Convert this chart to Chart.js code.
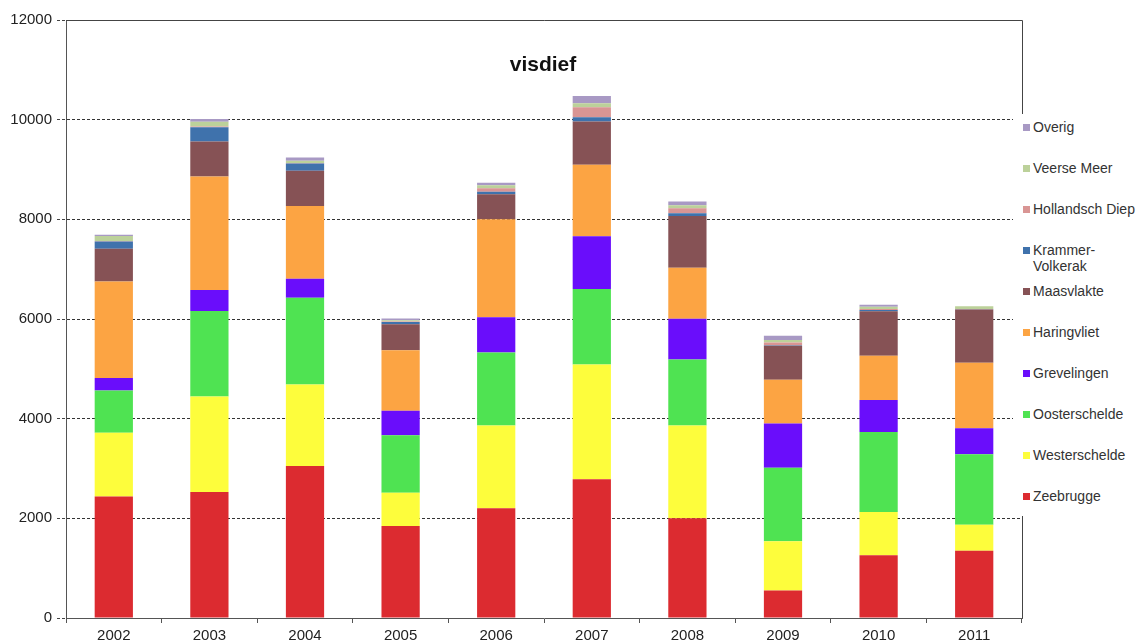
<!DOCTYPE html>
<html>
<head>
<meta charset="utf-8">
<title>visdief</title>
<script src="https://cdn.jsdelivr.net/npm/chart.js@4/dist/chart.umd.min.js"></script>
<style>
    html, body { margin: 0; padding: 0; background: #fff; }
    .wrap { position: relative; width: 1137px; height: 642px; font-family: "Liberation Sans", Arial, sans-serif; }
    .chart-title { position: absolute; left: 443px; width: 200px; top: 52px; text-align: center; font-size: 21px; font-weight: bold; color: #111; }
    .legend-box { position: absolute; left: 1013px; top: 114px; width: 124px; height: 402px; background: #fff; }
    .legend-item { position: absolute; left: 10px; font-size: 14px; line-height: 16px; color: #333; }
    .legend-item .swatch { position: absolute; left: 0; top: 5px; width: 7px; height: 7px; }
    .legend-item .text { display: block; margin-left: 10px; }
</style>
</head>
<body>
<div class="wrap">
    <canvas id="visdiefChart"></canvas>
    <div class="chart-title">visdief</div>
    <div class="legend-box" id="legendBox"></div>
</div>
<script>
// ===== Visdief counts per area, 2002-2011 =====

const years = ['2002', '2003', '2004', '2005', '2006', '2007', '2008', '2009', '2010', '2011'];

const zeebrugge       = [2440, 2527, 3050, 1848, 2201, 2785, 2004,  550, 1260, 1350];
const westerschelde   = [1276, 1916, 1638,  666, 1664, 2303, 1857,  992,  867,  520];
const oosterschelde   = [ 849, 1719, 1739, 1154, 1461, 1515, 1327, 1474, 1606, 1414];
const grevelingen     = [ 252,  421,  380,  490,  709, 1056,  817,  885,  644,  523];
const haringvliet     = [1936, 2276, 1461, 1216, 1965, 1435, 1025,  878,  884, 1314];
const maasvlakte      = [ 656,  705,  705,  521,  502,  867, 1037,  683,  894, 1069];
const krammerVolkerak = [ 148,  282,  148,   45,   53,   87,   54,   10,   25,    5];
const hollandschDiep  = [  10,   15,   10,   10,   67,  200,  100,   58,   20,    5];
const veerseMeer      = [  97,   99,   43,   25,   60,   80,   61,   50,   45,   55];
const overig          = [  27,   53,   68,   35,   54,  148,   74,   84,   40,    0];

const yTicks = [0, 2000, 4000, 6000, 8000, 10000, 12000];

// bottom of the stack first
const series = [
    { label: 'Zeebrugge',        data: zeebrugge,       color: '#dc2b30' },
    { label: 'Westerschelde',    data: westerschelde,   color: '#fdfd3c' },
    { label: 'Oosterschelde',    data: oosterschelde,   color: '#4fe352' },
    { label: 'Grevelingen',      data: grevelingen,     color: '#6a0dfb' },
    { label: 'Haringvliet',      data: haringvliet,     color: '#fca443' },
    { label: 'Maasvlakte',       data: maasvlakte,      color: '#865255' },
    { label: ['Krammer-', 'Volkerak'], data: krammerVolkerak, color: '#3f72ac' },
    { label: 'Hollandsch Diep',  data: hollandschDiep,  color: '#d99594' },
    { label: 'Veerse Meer',      data: veerseMeer,      color: '#bcd19a' },
    { label: 'Overig',           data: overig,          color: '#a899c4' }
];

// --- Frame: top and right edges of the plot box ---
const plotFrame = {
    id: 'plotFrame',
    afterDraw: function (chart) {
        const ctx = chart.ctx;
        const a = chart.chartArea;
        ctx.save();
        ctx.strokeStyle = '#444';
        ctx.lineWidth = 1;
        ctx.beginPath();
        ctx.moveTo(a.left, a.top + 0.5);
        ctx.lineTo(a.right + 0.5, a.top + 0.5);
        ctx.lineTo(a.right + 0.5, a.bottom);
        ctx.stroke();
        ctx.restore();
    }
};

const axisFont = { family: '"Liberation Sans", Arial, sans-serif', size: 15 };

new Chart(document.getElementById('visdiefChart').getContext('2d'), {
    type: 'bar',
    data: {
        labels: years,
        datasets: series.map(function (s) {
            return {
                label: Array.isArray(s.label) ? s.label.join('') : s.label,
                data: s.data,
                backgroundColor: s.color,
                borderWidth: 0,
                categoryPercentage: 1,
                barPercentage: 0.4
            };
        })
    },
    options: {
        responsive: true,
        maintainAspectRatio: false,
        animation: false,
        layout: { padding: { top: 20, right: 115, bottom: 0, left: 0 } },
        plugins: {
            legend: { display: false },
            title: { display: false },
            tooltip: { enabled: false }
        },
        scales: {
            x: {
                stacked: true,
                grid: { display: true, drawOnChartArea: false, offset: true, tickLength: 5, tickColor: '#555' },
                border: { display: true, color: '#555', width: 1 },
                ticks: { font: axisFont, color: '#222', padding: 4, maxRotation: 0 },
                afterFit: function (scale) { scale.height = 24; }
            },
            y: {
                stacked: true,
                min: 0,
                max: 12000,
                afterBuildTicks: function (scale) {
                    scale.ticks = yTicks.map(function (v) { return { value: v }; });
                },
                grid: {
                    color: function (c) {
                        return (c.tick && (c.tick.value === 0 || c.tick.value === 12000)) ? 'rgba(0,0,0,0)' : '#333';
                    },
                    tickColor: '#444',
                    tickLength: 9,
                    tickBorderDash: [3, 2]
                },
                border: { display: true, color: '#555', width: 1, dash: [3, 2] },
                ticks: {
                    font: axisFont,
                    color: '#222',
                    padding: 5,
                    callback: function (value) { return String(value); }
                },
                afterFit: function (scale) { scale.width = 66; }
            }
        }
    },
    plugins: [plotFrame]
});

// --- Legend (top entry = top of the stack) ---
(function () {
    var box = document.getElementById('legendBox');
    var boxTop = 114;
    var firstCenter = 127;
    var step = 41;
    series.slice().reverse().forEach(function (s, i) {
        var item = document.createElement('div');
        item.className = 'legend-item';
        item.style.top = (firstCenter + i * step - 8 - boxTop) + 'px';
        var sw = document.createElement('span');
        sw.className = 'swatch';
        sw.style.background = s.color;
        var txt = document.createElement('span');
        txt.className = 'text';
        txt.innerHTML = Array.isArray(s.label) ? s.label.join('<br>') : s.label;
        item.appendChild(sw);
        item.appendChild(txt);
        box.appendChild(item);
    });
})();
</script>
</body>
</html>
